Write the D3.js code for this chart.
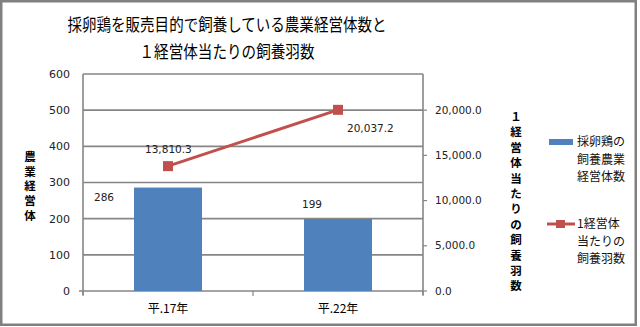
<!DOCTYPE html>
<html><head><meta charset="utf-8">
<script src="https://cdn.jsdelivr.net/npm/d3@7"></script>
<style>body{margin:0;background:#fff}svg{display:block}</style>
</head><body>
<svg id="c" width="640" height="327"></svg>
<script>
const categories = ["平.17年", "平.22年"];
const farms = [286, 199];
const birdsPerFarm = [13810.3, 20037.2];
const leftTicks = [0, 100, 200, 300, 400, 500, 600];
const rightTicks = [0, 5000, 10000, 15000, 20000];
const titleLines = ["採卵鶏を販売目的で飼養している農業経営体数と", "１経営体当たりの飼養羽数"];
const leftTitle = "農業経営体";
const rightTitle = "１経営体当たりの飼養羽数";
const legendItems = [["採卵鶏の", "飼養農業", "経営体数"], ["1経営体", "当たりの", "飼養羽数"]];

const svg = d3.select("#c");
const jp = "'Noto Sans CJK JP', sans-serif";
const num = "'DejaVu Sans', sans-serif";
const grid = "#868686";
const blue = "#4f81bd", red = "#c0504d";

svg.append("rect").attr("x",1.25).attr("y",1.25).attr("width",634.5).attr("height",323.5)
  .attr("fill","#fff").attr("stroke","#808080").attr("stroke-width",2.5);

const L = 83, R = 423, T = 74, B = 291;
const x = d3.scaleBand().domain(categories).range([L, R]).paddingInner(0.6).paddingOuter(0.3);
const xc = d3.scaleBand().domain(categories).range([L, R]);
const yL = d3.scaleLinear().domain([0, 600]).range([B, T]);
const yR = d3.scaleLinear().domain([0, 24000]).range([B, T]);

// gridlines
svg.append("g").selectAll("line").data(leftTicks.filter(d=>d>0)).join("line")
  .attr("x1", L).attr("x2", R).attr("y1", d=>yL(d)).attr("y2", d=>yL(d))
  .attr("stroke", grid).attr("stroke-width", 1.6);

// plot border left/right/bottom
svg.append("line").attr("x1",L).attr("x2",L).attr("y1",T).attr("y2",B+4).attr("stroke",grid).attr("stroke-width",1.6);
svg.append("line").attr("x1",R).attr("x2",R).attr("y1",T).attr("y2",B+4).attr("stroke",grid).attr("stroke-width",1.6);
svg.append("line").attr("x1",L-4).attr("x2",R).attr("y1",B).attr("y2",B).attr("stroke",grid).attr("stroke-width",1.6);

// category ticks
svg.append("g").selectAll("line").data([L, xc(categories[1]), R]).join("line")
  .attr("x1", d=>d).attr("x2", d=>d).attr("y1", B).attr("y2", B+5)
  .attr("stroke", grid).attr("stroke-width", 1.2);

// right axis ticks
svg.append("g").selectAll("line").data(rightTicks).join("line")
  .attr("x1", R).attr("x2", R+4).attr("y1", d=>yR(d)).attr("y2", d=>yR(d))
  .attr("stroke", grid).attr("stroke-width", 1.2);

// bars
svg.append("g").selectAll("rect").data(farms).join("rect")
  .attr("x", (d,i)=>x(categories[i])).attr("width", x.bandwidth())
  .attr("y", d=>yL(d)).attr("height", d=>B - yL(d)).attr("fill", blue);

// left tick labels
svg.append("g").selectAll("text").data(leftTicks).join("text")
  .attr("x", 70).attr("y", d=>yL(d)).attr("dy","0.35em").attr("text-anchor","end")
  .attr("font-family", num).attr("font-size", 11).attr("fill","#222").text(d=>d);

// right tick labels
const fmt = d3.format(",.1f");
svg.append("g").selectAll("text").data(rightTicks).join("text")
  .attr("x", 435).attr("y", d=>yR(d)).attr("dy","0.35em").attr("text-anchor","start")
  .attr("font-family", num).attr("font-size", 10.5).attr("fill","#222").text(d=>fmt(d));

// category labels
svg.append("g").selectAll("text").data(categories).join("text")
  .attr("x", d=>xc(d)+xc.bandwidth()/2).attr("y", 309).attr("dy","0.35em").attr("text-anchor","middle")
  .attr("font-family", jp).attr("font-size", 12).attr("fill","#000").text(d=>d);

// line
const px = (i)=>xc(categories[i])+xc.bandwidth()/2;
const line = d3.line().x((d,i)=>px(i)).y(d=>yR(d));
svg.append("path").datum(birdsPerFarm).attr("d", line).attr("fill","none")
  .attr("stroke", red).attr("stroke-width", 3);
svg.append("g").selectAll("rect").data(birdsPerFarm).join("rect")
  .attr("x", (d,i)=>px(i)-5).attr("y", d=>yR(d)-5).attr("width",10).attr("height",10).attr("fill", red);

// data labels
svg.append("g").selectAll("text").data(farms).join("text")
  .attr("x", (d,i)=> i===0 ? px(i) - 74 : px(i) - 36)
  .attr("y", (d,i)=> i===0 ? yL(d) + 10 : yL(d) - 15).attr("dy","0.35em")
  .attr("font-family", num).attr("font-size", 10.5).attr("fill","#222").text(d=>d);
svg.append("g").selectAll("text").data(birdsPerFarm).join("text")
  .attr("font-family", num).attr("font-size", 10.5).attr("fill","#222").text(d=>fmt(d))
  .attr("dy","0.35em")
  .attr("x", (d,i)=> i===0 ? px(i)-23 : px(i)+9)
  .attr("y", (d,i)=> i===0 ? yR(d)-17 : yR(d)+18);

// title
svg.append("g").selectAll("text").data(titleLines).join("text")
  .attr("x", 227).attr("y", (d,i)=>25 + i*27).attr("dy","0.35em").attr("text-anchor","middle")
  .attr("font-family", jp).attr("font-size", 17).attr("fill","#000")
  .attr("textLength", (d,i)=> i===0 ? 319 : 175).attr("lengthAdjust","spacingAndGlyphs")
  .text(d=>d);

// axis titles (vertical)
svg.append("g").selectAll("text").data(Array.from(leftTitle)).join("text")
  .attr("x", 30).attr("y", (d,i)=>157 + i*14.7).attr("dy","0.35em").attr("text-anchor","middle")
  .attr("font-family", jp).attr("font-weight","bold").attr("font-size", 11.5).attr("fill","#000").text(d=>d);
svg.append("g").selectAll("text").data(Array.from(rightTitle)).join("text")
  .attr("x", 516).attr("y", (d,i)=>117 + i*15.4).attr("dy","0.35em").attr("text-anchor","middle")
  .attr("font-family", jp).attr("font-weight","bold").attr("font-size", 11.5).attr("fill","#000").text(d=>d);

// legend
const lg = svg.append("g");
lg.append("rect").attr("x",549).attr("y",139).attr("width",24).attr("height",6).attr("fill",blue);
lg.append("line").attr("x1",547).attr("x2",575).attr("y1",224).attr("y2",224).attr("stroke",red).attr("stroke-width",3);
lg.append("rect").attr("x",556).attr("y",220).attr("width",9).attr("height",8).attr("fill",red);
legendItems.forEach((lines, k)=>{
  lg.append("g").selectAll("text").data(lines).join("text")
    .attr("x", 577).attr("y", (d,i)=>(k===0?142:224) + i*17.5).attr("dy","0.35em")
    .attr("font-family", jp).attr("font-size", 12).attr("fill","#111").text(d=>d);
});
</script>
</body></html>
